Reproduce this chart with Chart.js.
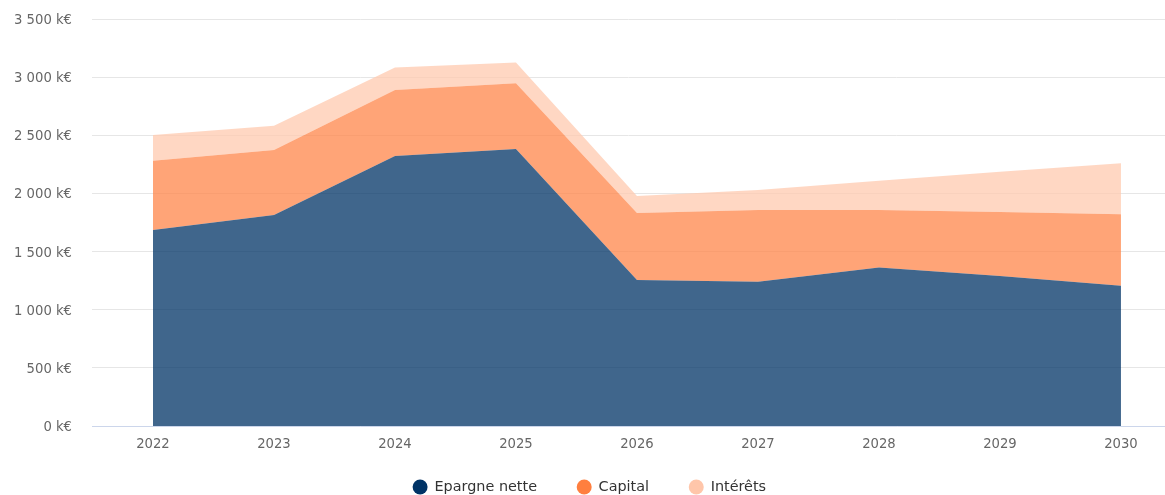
<!DOCTYPE html>
<html>
<head>
<meta charset="utf-8">
<script src="https://cdn.jsdelivr.net/npm/chart.js@4/dist/chart.umd.min.js"></script>
<style>
  html, body { margin: 0; padding: 0; background: #fff; }
  #wrap { width: 1165px; height: 495px; }
</style>
</head>
<body>
<div id="wrap"><canvas id="chart"></canvas></div>
<script>
  // Values, in k€.
  var YEARS = [2022, 2023, 2024, 2025, 2026, 2027, 2028, 2029, 2030];
  var EPARGNE = [1686, 1815, 2322, 2382, 1256, 1241, 1362, 1290, 1207];
  var CAPITAL = [596, 559, 568, 565, 576, 617, 496, 550, 614];
  var INTERETS = [221, 209, 192, 178, 146, 172, 252, 347, 438];
  var Y_TICKS = [0, 500, 1000, 1500, 2000, 2500, 3000, 3500];

  var FONT = 'DejaVu Sans';

  // "3 500 k€" — space as thousands separator
  function keur(v) {
    return String(v).replace(/\B(?=(\d{3})+(?!\d))/g, ' ') + ' k€';
  }

  function series(label, data, line, fill, fillMode) {
    return {
      label: label,
      data: data,
      borderColor: line,
      backgroundColor: line,
      fill: { target: fillMode, above: fill, below: fill },
      borderWidth: 0,
      pointRadius: 0,
      pointHoverRadius: 0,
      tension: 0
    };
  }

  // The legend's label padding sets both the gap between items and the
  // space above them; move the box afterwards so the row sits at the bottom.
  var legendNudge = {
    id: 'legendNudge',
    afterLayout: function (chart) {
      var lg = chart.legend;
      lg.top -= 16.2; lg.bottom -= 16.2;
      lg.left += 7; lg.right += 7;
    }
  };

  new Chart(document.getElementById('chart'), {
    type: 'line',
    data: {
      labels: YEARS,
      datasets: [
        series('Epargne nette', EPARGNE, '#003366', 'rgba(0,51,102,0.75)', 'origin'),
        series('Capital', CAPITAL, '#ff7f3f', 'rgba(255,133,73,0.75)', '-1'),
        series('Intérêts', INTERETS, '#ffc6aa', 'rgba(255,201,175,0.75)', '-1')
      ]
    },
    plugins: [legendNudge],
    options: {
      responsive: true,
      maintainAspectRatio: false,
      animation: false,
      layout: { padding: { top: 19, right: 0, left: 0, bottom: -25.4 } },
      plugins: {
        tooltip: { enabled: false },
        legend: {
          position: 'bottom',
          labels: {
            usePointStyle: true,
            pointStyle: 'circle',
            boxHeight: 10.6,
            padding: 40,
            color: '#333333',
            font: { family: FONT, size: 14.4 }
          }
        }
      },
      scales: {
        x: {
          type: 'linear',
          min: 2021.496,
          max: 2030.364,
          grid: { display: false, drawTicks: false },
          border: { display: true, color: '#ccd6eb', width: 1 },
          ticks: {
            padding: 11,
            color: '#666666',
            font: { family: FONT, size: 13.2 },
            callback: function (v) { return String(v); }
          },
          afterBuildTicks: function (scale) {
            scale.ticks = YEARS.map(function (y) { return { value: y }; });
          },
          afterFit: function (scale) { scale.height = 30; }
        },
        y: {
          stacked: true,
          min: 0,
          max: 3500,
          grid: { color: '#e6e6e6', drawTicks: false },
          border: { display: false },
          ticks: {
            padding: 20,
            labelOffset: 1.5,
            color: '#666666',
            font: { family: FONT, size: 13.2 },
            callback: function (v) { return keur(v); }
          },
          afterBuildTicks: function (scale) {
            scale.ticks = Y_TICKS.map(function (v) { return { value: v }; });
          },
          // tick padding would otherwise also push the plot top down
          afterFit: function (scale) {
            scale.width = 92;
            scale.paddingTop = 8;
            scale.paddingBottom = 8;
          }
        }
      }
    }
  });
</script>
</body>
</html>
